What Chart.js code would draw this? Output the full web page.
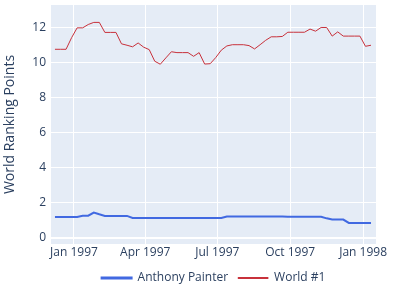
<!DOCTYPE html>
<html>
<head>
<meta charset="utf-8">
<script src="https://cdn.jsdelivr.net/npm/chart.js@4"></script>
<style>
  html, body { margin: 0; padding: 0; background: #fff; }
  #wrap { width: 400px; height: 300px; }
</style>
</head>
<body>
<div id="wrap"><canvas id="rankChart" width="400" height="300"></canvas></div>
<script>
// weekly ranking dates
let rankDates = [
    "1996-12-08", "1996-12-15", "1996-12-22", "1996-12-29",
    "1997-01-05", "1997-01-12", "1997-01-19", "1997-01-26",
    "1997-02-02", "1997-02-09", "1997-02-16", "1997-02-23",
    "1997-03-02", "1997-03-09", "1997-03-16", "1997-03-23", "1997-03-30",
    "1997-04-06", "1997-04-13", "1997-04-20", "1997-04-27",
    "1997-05-04", "1997-05-11", "1997-05-18", "1997-05-25",
    "1997-06-01", "1997-06-08", "1997-06-15", "1997-06-22", "1997-06-29",
    "1997-07-06", "1997-07-13", "1997-07-20", "1997-07-27",
    "1997-08-03", "1997-08-10", "1997-08-17", "1997-08-24", "1997-08-31",
    "1997-09-07", "1997-09-14", "1997-09-21", "1997-09-28",
    "1997-10-05", "1997-10-12", "1997-10-19", "1997-10-26",
    "1997-11-02", "1997-11-09", "1997-11-16", "1997-11-23", "1997-11-30",
    "1997-12-07", "1997-12-14", "1997-12-21", "1997-12-28",
    "1998-01-04", "1998-01-11"
];

let painterPoints = [
    1.20, 1.20, 1.20, 1.20, 1.20, 1.27, 1.27, 1.45, 1.35, 1.26,
    1.26, 1.26, 1.26, 1.26, 1.14, 1.14, 1.14, 1.14, 1.14, 1.14,
    1.14, 1.14, 1.14, 1.14, 1.14, 1.14, 1.14, 1.14, 1.14, 1.14,
    1.14, 1.22, 1.22, 1.22, 1.22, 1.22, 1.22, 1.22, 1.22, 1.22,
    1.22, 1.22, 1.21, 1.21, 1.21, 1.21, 1.21, 1.21, 1.21, 1.12,
    1.05, 1.05, 1.05, 0.86, 0.86, 0.86, 0.86, 0.86
];

let worldOnePoints = [
    10.74, 10.74, 10.74, 11.40, 11.96, 11.96, 12.15, 12.27, 12.27, 11.70,
    11.70, 11.70, 11.05, 10.97, 10.88, 11.10, 10.86, 10.72, 10.06, 9.89,
    10.25, 10.60, 10.55, 10.55, 10.55, 10.34, 10.55, 9.90, 9.92, 10.27,
    10.69, 10.93, 11.00, 11.00, 11.00, 10.95, 10.76, 11.00, 11.25, 11.45,
    11.45, 11.47, 11.71, 11.71, 11.71, 11.71, 11.89, 11.77, 11.98, 11.98,
    11.49, 11.73, 11.49, 11.49, 11.49, 11.49, 10.91, 10.97
];

let tickDates = ["1997-01-01", "1997-04-01", "1997-07-01", "1997-10-01", "1998-01-01"];
let tickLabels = ["Jan 1997", "Apr 1997", "Jul 1997", "Oct 1997", "Jan 1998"];
let yTicks = [0, 2, 4, 6, 8, 10, 12];

// days counted from Jan 1 1997 (no date adapter available)
const DAY0 = Date.UTC(1997, 0, 1);
function toDays(s) {
    let p = s.split("-");
    return (Date.UTC(+p[0], +p[1] - 1, +p[2]) - DAY0) / 86400000;
}

let xs = rankDates.map(toDays);
let tickDays = tickDates.map(toDays);

const fontColor = "#2a3f5f";
Chart.defaults.font.family = "'Open Sans', 'Liberation Sans', sans-serif";
Chart.defaults.color = fontColor;

// Plotly-like plot background
const plotBg = {
    id: "plotBg",
    beforeDraw(c) {
        let a = c.chartArea;
        c.ctx.save();
        c.ctx.fillStyle = "#E5ECF6";
        c.ctx.fillRect(a.left, a.top, a.right - a.left, a.bottom - a.top);
        c.ctx.restore();
    }
};

new Chart(document.getElementById("rankChart"), {
    type: "line",
    data: {
        datasets: [
            {
                label: "Anthony Painter",
                data: xs.map((x, i) => ({ x: x, y: painterPoints[i] })),
                borderColor: "#4169E1",
                backgroundColor: "#4169E1",
                borderWidth: 2,
                pointRadius: 0,
                tension: 0
            },
            {
                label: "World #1",
                data: xs.map((x, i) => ({ x: x, y: worldOnePoints[i] })),
                borderColor: "#C8313B",
                backgroundColor: "#C8313B",
                borderWidth: 1,
                pointRadius: 0,
                tension: 0
            }
        ]
    },
    options: {
        responsive: false,
        animation: false,
        layout: { padding: { top: 5, right: 24, left: 0, bottom: 6 } },
        plugins: {
            tooltip: { enabled: false },
            legend: {
                position: "bottom",
                fullSize: false,
                labels: {
                    boxWidth: 30,
                    boxHeight: 1,
                    padding: 10,
                    font: { size: 12 },
                    color: fontColor
                }
            }
        },
        scales: {
            x: {
                type: "linear",
                min: -29.0,
                max: 381.3,
                afterBuildTicks: s => { s.ticks = tickDays.map(v => ({ value: v })); },
                afterFit: s => { s.height = 18; s.paddingLeft = 0; s.paddingRight = 0; },
                ticks: {
                    autoSkip: false,
                    maxRotation: 0,
                    padding: 1,
                    font: { size: 12 },
                    color: fontColor,
                    callback: v => tickLabels[tickDays.indexOf(v)]
                },
                grid: { color: "#ffffff", lineWidth: 1, drawTicks: false },
                border: { display: false }
            },
            y: {
                min: -0.34,
                max: 13.26,
                afterBuildTicks: s => { s.ticks = yTicks.map(v => ({ value: v })); },
                afterFit: s => { s.width = 51; s.paddingTop = 0; s.paddingBottom = 0; },
                ticks: {
                    padding: 5,
                    font: { size: 12 },
                    color: fontColor
                },
                grid: {
                    color: "#ffffff",
                    lineWidth: c => (c.tick && c.tick.value === 0 ? 2 : 1),
                    drawTicks: false
                },
                border: { display: false },
                title: {
                    display: true,
                    text: "World Ranking Points",
                    font: { size: 14 },
                    color: fontColor,
                    padding: { top: 2, bottom: 0 }
                }
            }
        }
    },
    plugins: [plotBg]
});
</script>
</body>
</html>
